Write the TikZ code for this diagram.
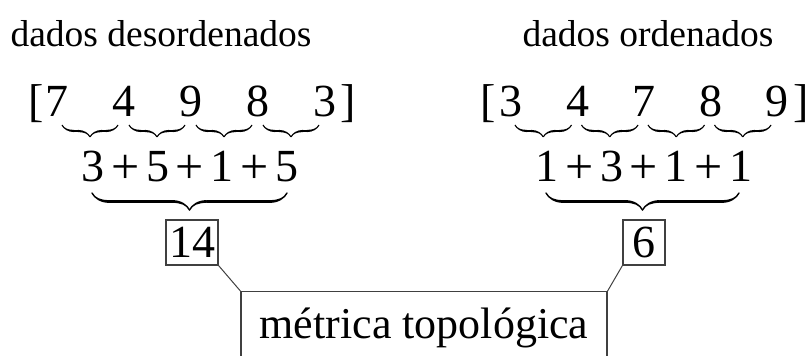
\documentclass[tikz,border=0pt]{standalone}
\usepackage{fontspec}
\setmainfont{Liberation Serif}
\usepackage{tikz}
\usetikzlibrary{calc, decorations.pathreplacing, calligraphy}

\newcommand{\plus}{\kern3.3pt\raisebox{-0.6pt}{\fontsize{25}{28}\selectfont+}\kern3.3pt}

\begin{document}
\begin{tikzpicture}[
  x=0.5pt, y=0.5pt,
  title/.style={font=\fontsize{18.75}{22}\selectfont, anchor=base},
  num/.style={font=\fontsize{23}{27}\selectfont, anchor=base, inner sep=0pt},
  sbrace/.style={decorate, line width=1.1pt,
    decoration={calligraphic brace, amplitude=6pt, mirror}},
  bbrace/.style={decorate, line width=1.4pt,
    decoration={calligraphic brace, amplitude=8.5pt, mirror}},
  valbox/.style={draw=black!75, line width=0.6pt, inner sep=1.5pt,
    minimum width=21pt, minimum height=22.5pt,
    font=\fontsize{23}{27}\selectfont},
  metricbox/.style={draw=black!75, line width=0.6pt, anchor=north,
    minimum width=183pt, inner ysep=8.5pt, text height=15pt, text depth=5pt,
    font=\fontsize{22}{26}\selectfont},
  link/.style={draw=black!75, line width=0.5pt},
]
\clip (0,0) rectangle (808,356);

% titles
\node[title] (tdes) at (161,309) {dados desordenados};
\node[title] (tord) at (648,309) {dados ordenados};

% unsorted data
\node[num] (lopen) at (36,239) {[};
\node[num] (lclose) at (348,239) {]};
\foreach \d [count=\i] in {7,4,9,8,3}{
  \node[num] (l\i) at ({57+67*(\i-1)},239) {\d};
}

% sorted data
\node[num] (ropen) at (488,239) {[};
\node[num] (rclose) at (801,239) {]};
\foreach \d [count=\i] in {3,4,7,8,9}{
  \node[num] (r\i) at ({511+66.5*(\i-1)},239) {\d};
}

% pairwise braces
\foreach \i [evaluate=\i as \j using int(\i+1)] in {1,...,4}{
  \draw[sbrace] ($(l\i.base)+(5,-8)$) -- ($(l\j.base)+(-6,-8)$);
  \draw[sbrace] ($(r\i.base)+(4,-8)$) -- ($(r\j.base)+(-6,-8)$);
}

% sums
\node[num] (lsum) at (190,174) {3\plus5\plus1\plus5};
\node[num] (rsum) at (644,174) {1\plus3\plus1\plus1};

\draw[bbrace] ($(lsum.base)+(-98,-11)$) -- ($(lsum.base)+(97,-11)$);
\draw[bbrace] ($(rsum.base)+(-98,-11)$) -- ($(rsum.base)+(95,-11)$);

% totals
\node[valbox] (b14) at (192,113.5) {14};
\node[valbox] (b6) at (644,113.5) {6};

\node[metricbox] (metric) at (424,65) {métrica topológica};

\draw[link] (b14.south east) -- (metric.north west);
\draw[link] (b6.south west) -- (metric.north east);

\end{tikzpicture}
\end{document}
